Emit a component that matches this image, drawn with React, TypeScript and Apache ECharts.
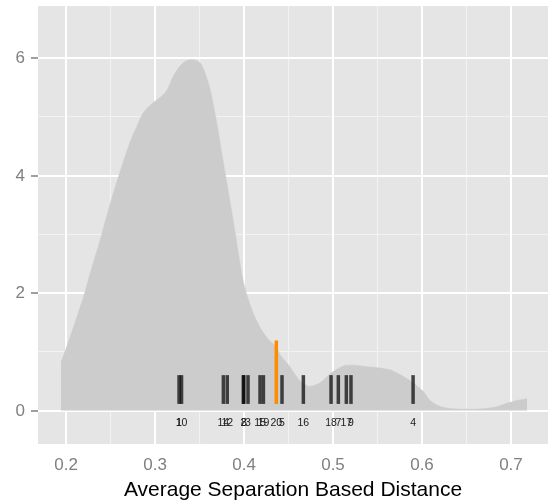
import React, { useEffect, useRef } from "react";
import * as echarts from "echarts";

// Density curve (x, density)
const densityX = [
  0.1944, 0.2, 0.2082, 0.2157, 0.2195, 0.228, 0.238, 0.249, 0.2607, 0.272,
  0.28, 0.287, 0.298, 0.306, 0.313, 0.3206, 0.328, 0.335, 0.3412, 0.3506,
  0.356, 0.3618, 0.3693, 0.3767, 0.388, 0.3992, 0.408, 0.418, 0.428, 0.4363,
  0.4404, 0.4517, 0.463, 0.474, 0.4854, 0.4966, 0.5079, 0.5154, 0.525, 0.534,
  0.5528, 0.564, 0.5715, 0.58, 0.59, 0.6015, 0.609, 0.62, 0.632, 0.645,
  0.66, 0.676, 0.686, 0.695, 0.707, 0.718,
];
const densityY = [
  0.82, 1.05, 1.41, 1.75, 1.92, 2.38, 2.88, 3.48, 4.06, 4.57,
  4.85, 5.07, 5.24, 5.33, 5.44, 5.69, 5.86, 5.95, 5.97, 5.92,
  5.75, 5.47, 4.9, 4.23, 3.22, 2.2, 1.75, 1.41, 1.2, 1.08,
  0.95, 0.74, 0.5, 0.41, 0.47, 0.62, 0.73, 0.77, 0.77, 0.75,
  0.72, 0.69, 0.64, 0.57, 0.47, 0.32, 0.17, 0.07, 0.03, 0.02,
  0.02, 0.04, 0.07, 0.12, 0.17, 0.2,
];

// Rug-like segments with their labels
const segX = [
  0.327, 0.3298, 0.3768, 0.3812, 0.3992, 0.3998, 0.4045, 0.418, 0.4218,
  0.4427, 0.4667, 0.4978, 0.506, 0.515, 0.5202, 0.59,
];
const segLabels = [
  "1", "10", "14", "12", "2", "8", "3", "15", "19",
  "5", "16", "18", "7", "17", "9", "4",
];
const highlightX = [0.4363];
const highlightLabels = ["20"];
const segBottom = 0.11;
const segTop = 0.6;
const highlightTop = 1.19;
const labelY = -0.19;

// Axes
const xMin = 0.1685;
const xMax = 0.7416;
const yMin = -0.574;
const yMax = 6.883;
const xTicks = [0.2, 0.3, 0.4, 0.5, 0.6, 0.7];
const xMinor = [0.25, 0.35, 0.45, 0.55, 0.65];
const yTicks = [0, 2, 4, 6];
const yMinor = [1, 3, 5];
const xTitle = "Average Separation Based Distance";

const FONT = "'Liberation Sans', Arial, Helvetica, sans-serif";

export default function App() {
  const ref = useRef<HTMLDivElement>(null);

  useEffect(() => {
    if (!ref.current) return;
    const chart = echarts.init(ref.current, null, { renderer: "svg" });

    const gridLines = (xs: number[], ys: number[], color: string, width: number) => ({
      z: 1,
      silent: true,
      symbol: ["none", "none"],
      label: { show: false },
      emphasis: { disabled: true },
      animation: false,
      lineStyle: { color, width, type: "solid" },
      data: [
        ...xs.map((v) => ({ xAxis: v })),
        ...ys.map((v) => ({ yAxis: v })),
      ],
    });

    const segRender = (top: number, color: string) => (params: any, api: any) => {
      const x = api.value(0);
      const p0 = api.coord([x, segBottom]);
      const p1 = api.coord([x, top]);
      return {
        type: "rect",
        shape: { x: p0[0] - 1.75, y: p1[1], width: 3.5, height: p0[1] - p1[1] },
        style: { fill: color },
      };
    };

    const labelRender = (labels: string[]) => (params: any, api: any) => {
      const x = api.value(0);
      const p = api.coord([x, labelY]);
      return {
        type: "text",
        x: p[0],
        y: p[1],
        style: {
          text: labels[params.dataIndex],
          fill: "#1a1a1a",
          fontSize: 10.5,
          fontFamily: FONT,
          align: "center",
          verticalAlign: "middle",
        },
      };
    };

    chart.setOption({
      animation: false,
      grid: {
        left: 38,
        right: 0,
        top: 6,
        bottom: 56,
        show: true,
        backgroundColor: "#e5e5e5",
        borderWidth: 0,
      },
      xAxis: {
        type: "value",
        min: xMin,
        max: xMax,
        splitLine: { show: false },
        axisLine: { show: false },
        axisTick: {
          show: true,
          customValues: xTicks,
          length: 7,
          lineStyle: { color: "#7f7f7f", width: 1.5 },
        },
        axisLabel: {
          customValues: xTicks,
          formatter: (v: number) => v.toFixed(1),
          color: "#7f7f7f",
          fontSize: 17,
          fontFamily: FONT,
          margin: 12,
        },
        name: xTitle,
        nameLocation: "middle",
        nameGap: 31,
        nameTextStyle: { fontSize: 21, color: "#000", fontFamily: FONT },
      },
      yAxis: {
        type: "value",
        min: yMin,
        max: yMax,
        splitLine: { show: false },
        axisLine: { show: false },
        axisTick: {
          show: true,
          customValues: yTicks,
          length: 7,
          lineStyle: { color: "#7f7f7f", width: 1.5 },
        },
        axisLabel: {
          customValues: yTicks,
          formatter: (v: number) => String(v),
          color: "#7f7f7f",
          fontSize: 17,
          fontFamily: FONT,
          margin: 13,
        },
      },
      series: [
        {
          type: "line",
          z: 1,
          data: [],
          markLine: gridLines(xMinor, yMinor, "#f2f2f2", 1.2),
        },
        {
          type: "line",
          z: 1,
          data: [],
          markLine: gridLines(xTicks, yTicks, "#ffffff", 2),
        },
        {
          type: "line",
          z: 2,
          data: densityX.map((x, i) => [x, densityY[i]]),
          smooth: 0.3,
          showSymbol: false,
          symbol: "none",
          lineStyle: { width: 0.5, color: "#cccccc" },
          areaStyle: { color: "#cccccc", opacity: 1 },
          silent: true,
        },
        {
          type: "custom",
          z: 3,
          data: segX.map((x) => [x]),
          renderItem: segRender(segTop, "rgba(0,0,0,0.7)"),
          silent: true,
        },
        {
          type: "custom",
          z: 4,
          data: highlightX.map((x) => [x]),
          renderItem: segRender(highlightTop, "#ff8c00"),
          silent: true,
        },
        {
          type: "custom",
          z: 5,
          data: segX.map((x) => [x]),
          renderItem: labelRender(segLabels),
          silent: true,
        },
        {
          type: "custom",
          z: 5,
          data: highlightX.map((x) => [x]),
          renderItem: labelRender(highlightLabels),
          silent: true,
        },
      ],
    });

    return () => chart.dispose();
  }, []);

  return (
    <div
      ref={ref}
      style={{ position: "fixed", left: 0, top: 0, width: 548, height: 504 }}
    />
  );
}
